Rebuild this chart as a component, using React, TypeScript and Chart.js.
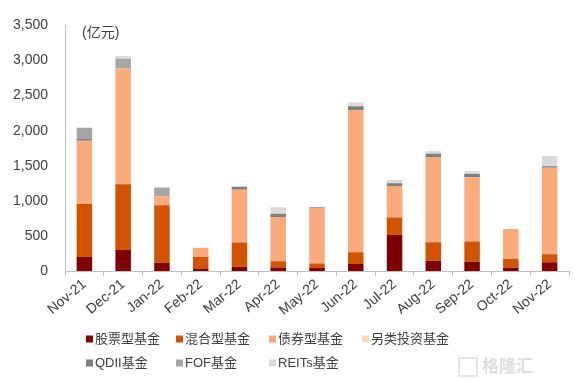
import React, { useEffect, useRef } from "react";
import { Chart, registerables } from "chart.js";

Chart.register(...registerables);

const categories = ["Nov-21", "Dec-21", "Jan-22", "Feb-22", "Mar-22", "Apr-22", "May-22", "Jun-22", "Jul-22", "Aug-22", "Sep-22", "Oct-22", "Nov-22"];
const stockFund = [200, 300, 117, 37, 61, 51, 42, 98, 513, 145, 131, 47, 126];
const mixedFund = [756, 935, 820, 163, 345, 89, 65, 168, 248, 266, 289, 126, 112];
const bondFund = [900, 1650, 126, 132, 751, 630, 794, 2025, 452, 1213, 915, 424, 1232];
const altFund = [0, 0, 0, 0, 0, 0, 0, 0, 0, 0, 0, 0, 0];
const qdiiFund = [25, 0, 0, 0, 45, 47, 10, 56, 38, 47, 46, 0, 23];
const fofFund = [160, 140, 126, 0, 0, 0, 0, 0, 0, 0, 0, 0, 0];
const reitsFund = [0, 40, 0, 0, 0, 93, 0, 56, 46, 37, 42, 0, 145];
const seriesNames = ["股票型基金", "混合型基金", "债券型基金", "另类投资基金", "QDII基金", "FOF基金", "REITs基金"];
const seriesColors = ["#800000", "#d35400", "#fbaa7b", "#fdd5b8", "#7f7f7f", "#a6a6a6", "#d9d9d9"];
const yTicks = [0, 500, 1000, 1500, 2000, 2500, 3000, 3500];
const unitLabel = "(亿元)";
const watermark = "格隆汇";

const FONT = '"Liberation Sans", Arial, "Noto Sans CJK SC", sans-serif';
const CJK_FONT = '"Liberation Sans", Arial, "Noto Sans CJK SC", sans-serif';

const extrasPlugin = {
  id: "extras",
  afterDraw(chart: any) {
    const ctx = chart.ctx;
    const area = chart.chartArea;
    ctx.save();
    // unit label
    ctx.fillStyle = "#404040";
    ctx.font = `14px ${CJK_FONT}`;
    ctx.textAlign = "left";
    ctx.textBaseline = "middle";
    ctx.fillText(unitLabel, area.left + 17, 33);
    // legend
    const cols = [86, 176, 269, 362];
    const rows = [339, 363];
    ctx.font = `13px ${CJK_FONT}`;
    seriesNames.forEach((name, i) => {
      const r = Math.floor(i / 4);
      const c = i % 4;
      const x = cols[c];
      const y = rows[r];
      ctx.fillStyle = seriesColors[i];
      ctx.fillRect(x, y - 3.5, 7, 7);
      ctx.fillStyle = "#404040";
      ctx.fillText(name, x + 9, y);
    });
    // watermark
    ctx.font = `bold 17px ${CJK_FONT}`;
    ctx.fillStyle = "rgba(160,160,160,0.35)";
    ctx.fillText(watermark, 482, 367);
    ctx.strokeStyle = "rgba(160,160,160,0.35)";
    ctx.lineWidth = 1.5;
    ctx.strokeRect(459, 358, 18, 18);
    ctx.restore();
  },
};

export default function App() {
  const ref = useRef<HTMLCanvasElement | null>(null);
  useEffect(() => {
    document.body.style.margin = "0";
    const canvas = ref.current;
    if (!canvas) return;
    const data = [stockFund, mixedFund, bondFund, altFund, qdiiFund, fofFund, reitsFund];
    const chart = new Chart(canvas, {
      type: "bar",
      data: {
        labels: categories,
        datasets: seriesNames.map((name, i) => ({
          label: name,
          data: data[i],
          backgroundColor: seriesColors[i],
          borderWidth: 0,
          barPercentage: 0.4,
          categoryPercentage: 1,
        })),
      },
      options: {
        animation: false,
        responsive: false,
        maintainAspectRatio: false,
        layout: { padding: { top: 21, right: 15, left: 0, bottom: 0 } },
        plugins: {
          legend: { display: false },
          tooltip: { enabled: false },
        },
        scales: {
          x: {
            stacked: true,
            grid: {
              display: true,
              drawOnChartArea: false,
              drawTicks: true,
              tickLength: 5,
              color: "#bfbfbf",
              offset: true,
            },
            border: { display: true, color: "#bfbfbf", width: 1 },
            ticks: {
              minRotation: 40,
              maxRotation: 40,
              autoSkip: false,
              color: "#404040",
              font: { size: 14, family: FONT },
              padding: 0,
            },
            afterFit(scale: any) {
              scale.height = 111;
            },
          },
          y: {
            stacked: true,
            min: 0,
            max: 3500,
            afterBuildTicks(scale: any) {
              scale.ticks = yTicks.map((v) => ({ value: v }));
            },
            grid: { display: false, drawTicks: false },
            border: { display: true, color: "#bfbfbf", width: 1 },
            ticks: {
              color: "#404040",
              font: { size: 14, family: FONT },
              padding: 17,
              callback: (v: any) => Number(v).toLocaleString("en-US"),
            },
            afterFit(scale: any) {
              scale.width = 65;
            },
          },
        },
      },
      plugins: [extrasPlugin],
    });
    return () => chart.destroy();
  }, []);
  return (
    <div style={{ width: 584, height: 382, background: "#fff" }}>
      <canvas ref={ref} width={584} height={382} style={{ display: "block", width: 584, height: 382 }} />
    </div>
  );
}
